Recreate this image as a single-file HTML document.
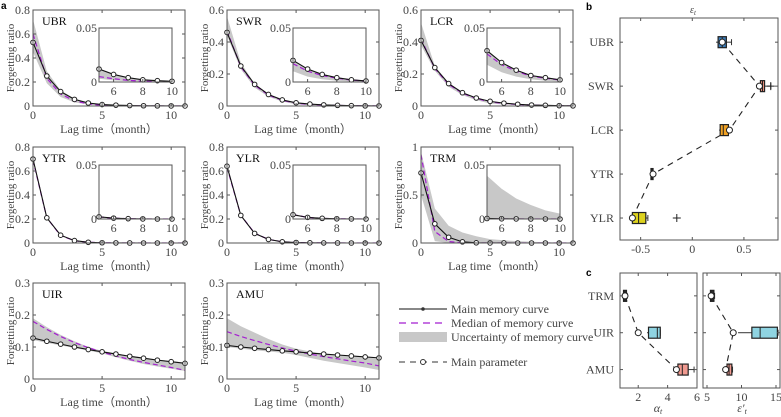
<!DOCTYPE html>
<html><head><meta charset="utf-8">
<style>
html,body{margin:0;padding:0;background:#fff;}
svg{display:block;font-family:"Liberation Serif",serif;}
</style></head>
<body>
<svg id="fig" width="781" height="417" viewBox="0 0 781 417" xmlns="http://www.w3.org/2000/svg"></svg>
<script>
// ---------- Data: panel a ----------
const lagMonths = [0,1,2,3,4,5,6,7,8,9,10,11];
const ubrMain   = [0.53,0.25,0.12,0.055,0.025,0.012,0.007,0.004,0.002,0.0012,0.0007,0.0004];
const ubrMedian = [0.60,0.23,0.10,0.042,0.018,0.005,0.003,0.0015,0.0008,0.0004,0.0002,0.0001];
const ubrUpper  = [0.72,0.29,0.13,0.062,0.03,0.012,0.007,0.004,0.002,0.0012,0.0007,0.0004];
const ubrLower  = [0.45,0.19,0.075,0.03,0.012,0.003,0.0015,0.0007,0.0003,0.0001,0,0];
const swrMain   = [0.46,0.25,0.135,0.072,0.038,0.02,0.012,0.007,0.004,0.002,0.001,0.0006];
const swrMedian = [0.47,0.245,0.13,0.068,0.035,0.017,0.01,0.006,0.0035,0.0018,0.0009,0.0005];
const swrUpper  = [0.56,0.27,0.14,0.075,0.04,0.02,0.012,0.007,0.004,0.002,0.001,0.0006];
const swrLower  = [0.44,0.23,0.115,0.058,0.028,0.01,0.005,0.0025,0.0012,0.0006,0.0003,0.0001];
const lcrMain   = [0.41,0.24,0.14,0.083,0.05,0.029,0.018,0.011,0.006,0.004,0.002,0.001];
const lcrMedian = [0.42,0.235,0.135,0.08,0.047,0.026,0.016,0.01,0.0055,0.0035,0.0018,0.0009];
const lcrUpper  = [0.52,0.25,0.145,0.085,0.05,0.03,0.018,0.011,0.006,0.004,0.002,0.001];
const lcrLower  = [0.38,0.22,0.12,0.068,0.036,0.016,0.009,0.005,0.0025,0.0012,0.0006,0.0003];
const ytrMain   = [0.70,0.21,0.065,0.02,0.006,0.002,0.0008,0.0003,0.0001,0,0,0];
const ytrMedian = [0.69,0.21,0.062,0.019,0.006,0.002,0.0007,0.0003,0.0001,0,0,0];
const ytrUpper  = [0.71,0.22,0.07,0.022,0.007,0.002,0.0008,0.0003,0.0001,0,0,0];
const ytrLower  = [0.68,0.2,0.06,0.018,0.005,0.0015,0.0005,0.0002,0,0,0,0];
const ylrMain   = [0.64,0.23,0.08,0.03,0.01,0.004,0.0015,0.0006,0.0002,0.0001,0,0];
const ylrMedian = [0.63,0.23,0.082,0.03,0.01,0.004,0.0015,0.0006,0.0002,0.0001,0,0];
const ylrUpper  = [0.65,0.24,0.085,0.032,0.011,0.004,0.0016,0.0006,0.0002,0.0001,0,0];
const ylrLower  = [0.62,0.22,0.077,0.028,0.009,0.003,0.0012,0.0005,0.0002,0,0,0];
const trmMain   = [0.73,0.20,0.06,0.012,0.002,0.0005,0.0002,0.0001,0,0,0,0];
const trmMedian = [0.92,0.12,0.015,0.002,0,0,0,0,0,0,0,0];
const trmUpper  = [0.95,0.36,0.18,0.11,0.07,0.04,0.028,0.019,0.013,0.008,0.005,0.003];
const trmLower  = [0.5,0.02,0,0,0,0,0,0,0,0,0,0];
const uirMain   = [0.128,0.118,0.109,0.1,0.092,0.085,0.078,0.071,0.065,0.059,0.054,0.049];
const uirMedian = [0.18,0.155,0.133,0.114,0.098,0.084,0.072,0.061,0.052,0.044,0.036,0.027];
const uirUpper  = [0.19,0.162,0.138,0.118,0.1,0.088,0.08,0.073,0.067,0.061,0.056,0.051];
const uirLower  = [0.122,0.113,0.105,0.097,0.089,0.08,0.068,0.057,0.047,0.039,0.032,0.025];
const amuMain   = [0.105,0.1,0.096,0.092,0.088,0.085,0.081,0.078,0.075,0.072,0.069,0.066];
const amuMedian = [0.148,0.133,0.12,0.108,0.097,0.087,0.078,0.07,0.063,0.056,0.05,0.041];
const amuUpper  = [0.19,0.165,0.145,0.125,0.108,0.095,0.086,0.079,0.074,0.07,0.067,0.064];
const amuLower  = [0.1,0.095,0.09,0.086,0.082,0.075,0.066,0.057,0.05,0.043,0.036,0.028];
const ticksA08 = [0,0.2,0.4,0.6,0.8];
const ticksA06 = [0,0.2,0.4,0.6];
const ticksA1  = [0,0.5,1];
const ticksA03 = [0,0.1,0.2,0.3];
const ticksLag = [0,5,10];
const insetXTicks = [6,8,10];
const insetYTicks = [0,0.05];
// ---------- Data: panel b ----------
const bCats   = ["UBR","SWR","LCR","YTR","YLR"];
const bQ1     = [0.25,0.66,0.27,-0.40,-0.58];
const bMed    = [0.29,0.68,0.30,-0.39,-0.52];
const bQ3     = [0.33,0.70,0.35,-0.38,-0.45];
const bWlo    = [0.23,0.65,0.26,-0.41,-0.60];
const bWhi    = [0.38,0.76,0.36,-0.37,-0.43];
const bMain   = [0.29,0.65,0.36,-0.38,-0.58];
const bOutX   = [null,0.76,null,null,-0.15];
const bTicks  = [-0.5,0,0.5];
const bColors = ["#3d7db8","#e98f7c","#f0a124","#333333","#ddd21e"];
// ---------- Data: panel c ----------
const cCats   = ["TRM","UIR","AMU"];
const aQ1 = [1.0,2.7,4.7], aMed=[1.1,3.3,5.0], aQ3=[1.2,3.5,5.4], aWlo=[0.95,2.6,4.6], aWhi=[1.25,3.5,5.8], aMain=[1.1,2.0,4.6];
const eQ1 = [5.5,11.5,7.9], eMed=[5.7,12.7,8.2], eQ3=[6.0,15.2,8.6], eWlo=[5.4,9.5,7.8], eWhi=[6.1,15.3,8.7], eMain=[5.6,8.8,7.7];
const aTicks = [2,4,6];
const eTicks = [5,10,15];
const cColors = ["#333333","#8fd4e2","#f09a90"];

const NS="http://www.w3.org/2000/svg";
const svg=document.getElementById('fig');
function mk(tag,attrs,parent,name){const e=document.createElementNS(NS,tag);for(const k in attrs)e.setAttribute(k,attrs[k]);
  
  
  (parent||svg).appendChild(e);return e;}
function txt(x,y,s,attrs,parent,name){const t=mk('text',Object.assign({x:x,y:y,fill:'#444','font-size':12},attrs||{}),parent,name);t.textContent=s;return t;}
function lin(d0,d1,r0,r1){return v=>r0+(v-d0)/(d1-d0)*(r1-r0);}

let clipId=0;
function curvePanel(o){
  const g=mk('g',{},svg,o.name+'-panel');
  const X=lin(0,11,o.x,o.x+152), Y=lin(0,o.ymax,o.y+96,o.y);
  drawSeries(g,X,Y,o,lagMonths.map((m,i)=>i),o.x,o.y,152,96);
  mk('rect',{x:o.x,y:o.y,width:152,height:96,fill:'none',stroke:'#555','stroke-width':1},g,'axes-box');
  o.yt.forEach(v=>{mk('line',{x1:o.x,x2:o.x+3,y1:Y(v),y2:Y(v),stroke:'#555'},g,'y-tick');
    mk('line',{x1:o.x+152,x2:o.x+149,y1:Y(v),y2:Y(v),stroke:'#555'},g,'y-tick');
    txt(o.x-3,Y(v)+4,String(v),{'text-anchor':'end'},g,'y-tick-label');});
  ticksLag.forEach(v=>{mk('line',{x1:X(v),x2:X(v),y1:o.y+96,y2:o.y+93,stroke:'#555'},g,'x-tick');
    mk('line',{x1:X(v),x2:X(v),y1:o.y,y2:o.y+3,stroke:'#555'},g,'x-tick');
    txt(X(v),o.y+109,String(v),{'text-anchor':'middle'},g,'x-tick-label');});
  txt(o.x+76,o.y+123,'Lag time（month）',{'text-anchor':'middle'},g,'x-axis-title');
  txt(o.x-19,o.y+48,'Forgetting ratio',{'text-anchor':'middle','font-size':11,transform:`rotate(-90 ${o.x-19} ${o.y+48})`},g,'y-axis-title');
  txt(o.x+9,o.y+15,o.name.toUpperCase(),{fill:'#111','font-size':12},g,'panel-title');
  if(o.inset){
    const ix=o.x+66, iy=o.y+18, iw=73, ih=54;
    const IX=lin(5,10,ix,ix+iw), IY=lin(0,0.05,iy+ih,iy);
    mk('rect',{x:ix,y:iy,width:iw,height:ih,fill:'#fff'},g,'inset-bg');
    drawSeries(g,IX,IY,o,[5,6,7,8,9,10],ix,iy,iw,ih);
    mk('rect',{x:ix,y:iy,width:iw,height:ih,fill:'none',stroke:'#555'},g,'inset-box');
    insetXTicks.forEach(v=>{mk('line',{x1:IX(v),x2:IX(v),y1:iy+ih,y2:iy+ih-3,stroke:'#555'},g,'inset-x-tick');
      txt(IX(v),iy+ih+13,String(v),{'text-anchor':'middle'},g,'inset-x-tick-label');});
    insetYTicks.forEach(v=>{txt(ix-2,IY(v)+4,String(v),{'text-anchor':'end'},g,'inset-y-tick-label');});
  }
}
function drawSeries(g,X,Y,o,idx,cx,cy,cw,ch){
  const id='c'+(clipId++);
  const cp=mk('clipPath',{id:id},g,'clip');mk('rect',{x:cx,y:cy,width:cw,height:ch},cp,'clip-rect');
  const sg=mk('g',{'clip-path':`url(#${id})`},g,'series');
  let d=idx.map((i,k)=>(k?'L':'M')+X(i)+','+Y(o.up[i])).join('')+idx.slice().reverse().map(i=>'L'+X(i)+','+Y(o.lo[i])).join('')+'Z';
  mk('path',{d:d,fill:'#c8c8c8',stroke:'none'},sg,'uncertainty-band');
  mk('path',{d:idx.map((i,k)=>(k?'L':'M')+X(i)+','+Y(o.med[i])).join(''),fill:'none',stroke:'#a41fd0','stroke-width':1.2,'stroke-dasharray':'5,3'},sg,'median-curve');
  mk('path',{d:idx.map((i,k)=>(k?'L':'M')+X(i)+','+Y(o.main[i])).join(''),fill:'none',stroke:'#111','stroke-width':1.1},sg,'main-curve');
  idx.forEach(i=>mk('circle',{cx:X(i),cy:Y(o.main[i]),r:2.3,fill:'#fff',stroke:'#222','stroke-width':1},g,'main-curve-point'));
}
const cols=[33,227,421], rows=[10,147,283];
curvePanel({name:'ubr',x:cols[0],y:rows[0],ymax:0.8,yt:ticksA08,main:ubrMain,med:ubrMedian,up:ubrUpper,lo:ubrLower,inset:true});
curvePanel({name:'swr',x:cols[1],y:rows[0],ymax:0.6,yt:ticksA06,main:swrMain,med:swrMedian,up:swrUpper,lo:swrLower,inset:true});
curvePanel({name:'lcr',x:cols[2],y:rows[0],ymax:0.6,yt:ticksA06,main:lcrMain,med:lcrMedian,up:lcrUpper,lo:lcrLower,inset:true});
curvePanel({name:'ytr',x:cols[0],y:rows[1],ymax:0.8,yt:ticksA08,main:ytrMain,med:ytrMedian,up:ytrUpper,lo:ytrLower,inset:true});
curvePanel({name:'ylr',x:cols[1],y:rows[1],ymax:0.8,yt:ticksA08,main:ylrMain,med:ylrMedian,up:ylrUpper,lo:ylrLower,inset:true});
curvePanel({name:'trm',x:cols[2],y:rows[1],ymax:1,yt:ticksA1,main:trmMain,med:trmMedian,up:trmUpper,lo:trmLower,inset:true});
curvePanel({name:'uir',x:cols[0],y:rows[2],ymax:0.3,yt:ticksA03,main:uirMain,med:uirMedian,up:uirUpper,lo:uirLower,inset:false});
curvePanel({name:'amu',x:cols[1],y:rows[2],ymax:0.3,yt:ticksA03,main:amuMain,med:amuMedian,up:amuUpper,lo:amuLower,inset:false});

// legend
const lg=mk('g',{},svg,'legend');
mk('line',{x1:399,x2:447,y1:309,y2:309,stroke:'#111','stroke-width':1.1},lg,'legend-main-line');
mk('circle',{cx:423,cy:309,r:1.8,fill:'#333'},lg,'legend-main-marker');
txt(451,313,'Main memory curve',{},lg,'legend-main-label');
mk('line',{x1:399,x2:447,y1:323,y2:323,stroke:'#a41fd0','stroke-width':1.2,'stroke-dasharray':'7,5'},lg,'legend-median-line');
txt(451,327,'Median of memory curve',{},lg,'legend-median-label');
mk('rect',{x:399,y:332,width:48,height:10,fill:'#c8c8c8'},lg,'legend-band-swatch');
txt(451,341,'Uncertainty of memory curve',{},lg,'legend-band-label');
mk('line',{x1:399,x2:447,y1:362,y2:362,stroke:'#333','stroke-width':1.1,'stroke-dasharray':'6,5'},lg,'legend-param-line');
mk('circle',{cx:423,cy:362,r:2.5,fill:'#fff',stroke:'#333'},lg,'legend-param-marker');
txt(451,366,'Main parameter',{},lg,'legend-param-label');

// box panels
function boxPanel(o){
  const g=mk('g',{},svg,o.name);
  const X=lin(o.xmin,o.xmax,o.x,o.x+o.w), Y=lin(o.c0,o.c1,o.y,o.y+o.h);
  const n=o.cats.length, bh=o.bh;
  mk('path',{d:o.main.map((v,i)=>(i?'L':'M')+X(v)+','+Y(i)).join(''),fill:'none',stroke:'#222','stroke-width':1.1,'stroke-dasharray':'6,5'},g,'main-parameter-line');
  o.cats.forEach((c,i)=>{
    const y=Y(i);
    mk('line',{x1:X(o.wlo[i]),x2:X(o.q1[i]),y1:y,y2:y,stroke:'#333'},g,'whisker-low');
    mk('line',{x1:X(o.q3[i]),x2:X(o.whi[i]),y1:y,y2:y,stroke:'#333'},g,'whisker-high');
    mk('line',{x1:X(o.whi[i]),x2:X(o.whi[i]),y1:y-3,y2:y+3,stroke:'#333'},g,'whisker-cap');
    mk('rect',{x:X(o.q1[i]),y:y-bh/2,width:Math.max(2,X(o.q3[i])-X(o.q1[i])),height:bh,fill:o.colors[i],stroke:'#222','stroke-width':1.2},g,'box-'+c.toLowerCase());
    mk('line',{x1:X(o.med[i]),x2:X(o.med[i]),y1:y-bh/2,y2:y+bh/2,stroke:'#222'},g,'box-median');
    if(o.out&&o.out[i]!=null){mk('path',{d:`M${X(o.out[i])-4},${y}h8M${X(o.out[i])},${y-4}v8`,stroke:'#222','stroke-width':1},g,'outlier');}
    mk('circle',{cx:X(o.main[i]),cy:y,r:3,fill:'#fff',stroke:'#222'},g,'main-parameter-point');
    if(o.labels){txt(o.x-6,y+4,c,{'text-anchor':'end'},g,'category-label');}
    mk('line',{x1:o.x,x2:o.x+3,y1:y,y2:y,stroke:'#555'},g,'y-tick');
    mk('line',{x1:o.x+o.w,x2:o.x+o.w-3,y1:y,y2:y,stroke:'#555'},g,'y-tick');
  });
  mk('rect',{x:o.x,y:o.y,width:o.w,height:o.h,fill:'none',stroke:'#555'},g,'axes-box');
  o.ticks.forEach(v=>{mk('line',{x1:X(v),x2:X(v),y1:o.y+o.h,y2:o.y+o.h-3,stroke:'#555'},g,'x-tick');
    mk('line',{x1:X(v),x2:X(v),y1:o.y,y2:o.y+3,stroke:'#555'},g,'x-tick');
    txt(X(v),o.y+o.h+13,String(v),{'text-anchor':'middle'},g,'x-tick-label');});
}
boxPanel({name:'panel-b',x:620,y:18,w:158,h:222,xmin:-0.7,xmax:0.83,c0:-0.55,c1:4.5,cats:bCats,q1:bQ1,med:bMed,q3:bQ3,wlo:bWlo,whi:bWhi,main:bMain,out:bOutX,ticks:bTicks,colors:bColors,bh:11,labels:true});
boxPanel({name:'panel-c-alpha',x:620,y:273,w:77,h:115,xmin:0.76,xmax:6,c0:-0.62,c1:2.5,cats:cCats,q1:aQ1,med:aMed,q3:aQ3,wlo:aWlo,whi:aWhi,main:aMain,out:null,ticks:aTicks,colors:cColors,bh:11,labels:true});
boxPanel({name:'panel-c-eps',x:703,y:273,w:77,h:115,xmin:4.42,xmax:15.58,c0:-0.62,c1:2.5,cats:cCats,q1:eQ1,med:eMed,q3:eQ3,wlo:eWlo,whi:eWhi,main:eMain,out:null,ticks:eTicks,colors:cColors,bh:11,labels:false});
txt(693,13,'ε',{'text-anchor':'middle','font-style':'italic','font-size':10},svg,'panel-b-axis-title').innerHTML='ε<tspan font-size="7" dy="2">t</tspan>';
txt(658,412,'',{'text-anchor':'middle','font-style':'italic','font-size':12},svg,'panel-c-alpha-axis-title').innerHTML='α<tspan font-size="8" dy="2">t</tspan>';
txt(742,412,'',{'text-anchor':'middle','font-style':'italic','font-size':12},svg,'panel-c-eps-axis-title').innerHTML='ε′<tspan font-size="8" dy="2">t</tspan>';
txt(1,9,'a',{fill:'#000','font-weight':'bold','font-size':10,'font-family':'Liberation Sans, sans-serif'},svg,'panel-a-label');
txt(586,10,'b',{fill:'#000','font-weight':'bold','font-size':10,'font-family':'Liberation Sans, sans-serif'},svg,'panel-b-label');
txt(586,276,'c',{fill:'#000','font-weight':'bold','font-size':10,'font-family':'Liberation Sans, sans-serif'},svg,'panel-c-label');
</script>
</body></html>
